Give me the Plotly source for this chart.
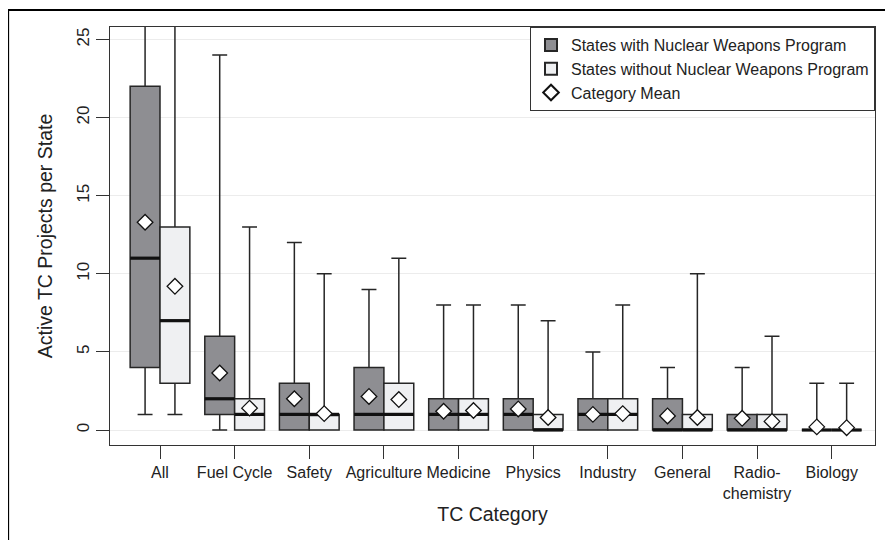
import plotly.graph_objects as go

categories = ["All", "Fuel Cycle", "Safety", "Agriculture", "Medicine", "Physics",
              "Industry", "General", "Radio-<br>chemistry", "Biology"]

# States with nuclear weapons program
nw_low = [1, 0, 0, 0, 0, 0, 0, 0, 0, 0]
nw_q1 = [4, 1, 0, 0, 0, 0, 0, 0, 0, 0]
nw_med = [11, 2, 1, 1, 1, 1, 1, 0, 0, 0]
nw_q3 = [22, 6, 3, 4, 2, 2, 2, 2, 1, 0]
nw_high = [40, 24, 12, 9, 8, 8, 5, 4, 4, 3]
nw_mean = [13.3, 3.65, 2.0, 2.15, 1.2, 1.35, 1.0, 0.9, 0.75, 0.2]

# States without nuclear weapons program
no_low = [1, 0, 0, 0, 0, 0, 0, 0, 0, 0]
no_q1 = [3, 0, 0, 0, 0, 0, 0, 0, 0, 0]
no_med = [7, 1, 1, 1, 1, 0, 1, 0, 0, 0]
no_q3 = [13, 2, 1, 3, 2, 1, 2, 1, 1, 0]
no_high = [35, 13, 10, 11, 8, 7, 8, 10, 6, 3]
no_mean = [9.2, 1.4, 1.05, 1.95, 1.25, 0.8, 1.05, 0.8, 0.55, 0.15]

y_ticks = [0, 5, 10, 15, 20, 25]

DARK = "#8e8e92"
LIGHT = "#eff0f2"
EDGE = "#262626"
OFF = 0.2
W = 0.4

idx = list(range(len(categories)))
x_nw = [i - OFF for i in idx]
x_no = [i + OFF for i in idx]

fig = go.Figure()

for xs, lo, q1, med, q3, hi, fill in [
    (x_nw, nw_low, nw_q1, nw_med, nw_q3, nw_high, DARK),
    (x_no, no_low, no_q1, no_med, no_q3, no_high, LIGHT),
]:
    fig.add_trace(go.Box(
        x=xs, q1=q1, median=med, q3=q3, lowerfence=lo, upperfence=hi,
        width=W, whiskerwidth=0.5, fillcolor=fill,
        line=dict(color=EDGE, width=1.5), showlegend=False,
        hoverinfo="skip",
    ))
    # thicker median lines
    mx, my = [], []
    for x, m in zip(xs, med):
        mx += [x - W / 2, x + W / 2, None]
        my += [m, m, None]
    fig.add_trace(go.Scatter(x=mx, y=my, mode="lines",
                             line=dict(color="#111111", width=3.2),
                             showlegend=False, hoverinfo="skip"))

# means
fig.add_trace(go.Scatter(
    x=x_nw + x_no, y=nw_mean + no_mean, mode="markers",
    marker=dict(symbol="diamond", size=12, color="white",
                line=dict(color="#111111", width=1.3)),
    showlegend=False, hoverinfo="skip"))

# legend entries
fig.add_trace(go.Scatter(x=[None], y=[None], mode="markers",
                         name="States with Nuclear Weapons Program",
                         marker=dict(symbol="square", size=9, color=DARK,
                                     line=dict(color=EDGE, width=1.2))))
fig.add_trace(go.Scatter(x=[None], y=[None], mode="markers",
                         name="States without Nuclear Weapons Program",
                         marker=dict(symbol="square", size=9, color=LIGHT,
                                     line=dict(color=EDGE, width=1.2))))
fig.add_trace(go.Scatter(x=[None], y=[None], mode="markers",
                         name="Category Mean",
                         marker=dict(symbol="diamond", size=12, color="white",
                                     line=dict(color="#111111", width=1.3))))

font_family = "Liberation Sans, Arial, sans-serif"

fig.update_layout(
    width=885, height=532,
    margin=dict(l=102, r=18, t=19, b=95),
    paper_bgcolor="white", plot_bgcolor="white",
    font=dict(family=font_family, color="#222222", size=16),
    legend=dict(x=1, y=1, xanchor="right", yanchor="top",
                bgcolor="white", bordercolor="#333333", borderwidth=1,
                font=dict(size=16, color="#222222"),
                itemsizing="constant", tracegroupgap=0, itemwidth=30,
                traceorder="normal"),
    xaxis=dict(
        range=[-0.67, 9.58],
        tickmode="array", tickvals=idx, ticktext=categories,
        ticks="outside", ticklen=13, tickcolor="#333333", tickwidth=1.2,
        showline=True, linecolor="#333333", linewidth=1.2, mirror=True,
        showgrid=False, zeroline=False,
        title=dict(text="TC Category", font=dict(size=19.5), standoff=6),
        tickfont=dict(size=16),
    ),
    yaxis=dict(
        range=[-0.96, 25.8],
        tickmode="array", tickvals=y_ticks,
        ticks="outside", ticklen=13, tickcolor="#333333", tickwidth=1.2,
        tickangle=-90,
        showline=True, linecolor="#333333", linewidth=1.2, mirror=True,
        showgrid=True, gridcolor="#ececec", gridwidth=1.2, zeroline=False,
        title=dict(text="Active TC Projects per State", font=dict(size=19.5), standoff=16),
        tickfont=dict(size=17),
    ),
    shapes=[dict(type="rect", xref="paper", yref="paper",
                 x0=-0.1333, x1=1.05, y0=-0.35, y1=1.0407,
                 line=dict(color="black", width=2.2), layer="above")],
)

fig.write_html("out.html")
